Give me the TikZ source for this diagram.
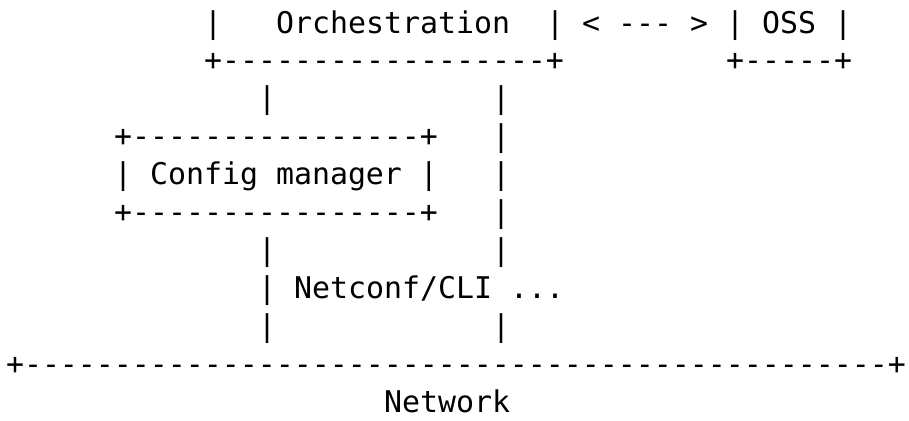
\documentclass[tikz,border=0pt]{standalone}
\usepackage{fontspec}
\setmonofont{DejaVu Sans Mono}
\usepackage{tikz}

\begin{document}
\begin{tikzpicture}[
            x=9pt, y=-18.95pt,
            art/.style={font=\ttfamily\fontsize{14.95}{18}\selectfont,
                anchor=base west, inner sep=0pt, outer sep=0pt}]
            \useasboundingbox (0pt,0pt) rectangle (454.5pt,-210pt);
            \begin{scope}[shift={(3pt,-16.5pt)}]
            % orchestration and OSS
            \node[art](orchl) at (11,0){|};
            \node[art](orch) at (15,0){Orchestration};
            \node[art](orchr) at (30,0){|};
            \node[art](link) at (32,0){< --- >};
            \node[art](oss) at (40,0){| OSS |};
            \node[art](orchbot) at (11,1){+------------------+};
            \node[art](ossbot) at (40,1){+-----+};
            \node[art](upl) at (14,2){|};
            \node[art](upr) at (27,2){|};
            % config manager
            \node[art](cfgtop) at (6,3){+----------------+};
            \node[art](midr1) at (27,3){|};
            \node[art](cfg) at (6,4){| Config manager |};
            \node[art](midr2) at (27,4){|};
            \node[art](cfgbot) at (6,5){+----------------+};
            \node[art](midr3) at (27,5){|};
            \node[art](downl1) at (14,6){|};
            \node[art](downr1) at (27,6){|};
            \node[art](proto) at (14,7){| Netconf/CLI ...};
            \node[art](downl2) at (14,8){|};
            \node[art](downr2) at (27,8){|};
            % network
            \node[art](netbar) at (0,9){+------------------------------------------------+};
            \node[art](net) at (21,10){Network};
            \end{scope}
\end{tikzpicture}
\end{document}
